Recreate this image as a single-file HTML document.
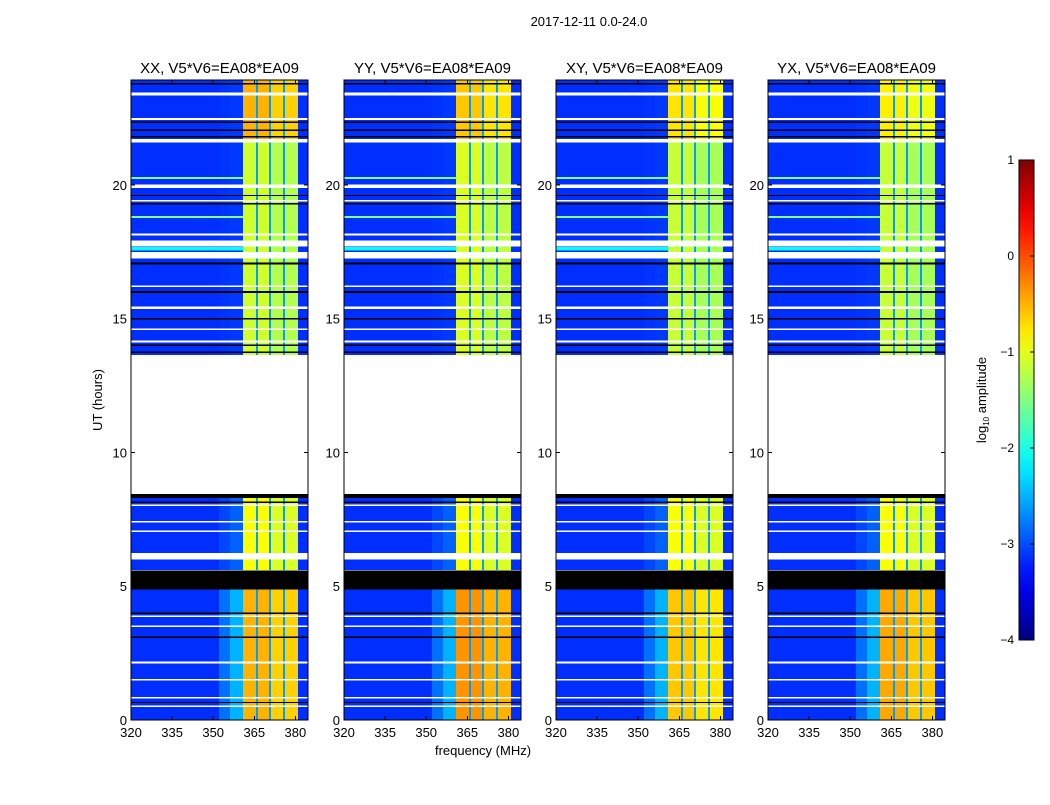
<!DOCTYPE html>
<html><head><meta charset="utf-8"><style>
body{margin:0;background:#fff;font-family:"Liberation Sans",sans-serif;}
svg text{font-family:"Liberation Sans",sans-serif;}
</style></head><body>
<svg id="fig" width="1050" height="800" viewBox="0 0 1050 800">
<rect width="1050" height="800" fill="#fff"/>
<text x="589" y="26" font-size="13" text-anchor="middle">2017-12-11 0.0-24.0</text>
<text x="0" y="0" font-size="13" text-anchor="middle" transform="translate(102,400) rotate(-90)">UT (hours)</text>
<text x="483" y="755" font-size="13" text-anchor="middle">frequency (MHz)</text>
<g id="panels" shape-rendering="crispEdges"></g>
<g id="cbar"></g>
<text x="0" y="0" font-size="13" text-anchor="middle" transform="translate(986,400) rotate(-90)">log<tspan font-size="8" dy="3">10</tspan><tspan dy="-3"> amplitude</tspan></text>
</svg>
<script>
const panelTitles=['XX, V5*V6=EA08*EA09','YY, V5*V6=EA08*EA09','XY, V5*V6=EA08*EA09','YX, V5*V6=EA08*EA09'];
const xTicks=[320,335,350,365,380];
const yTicks=[0,5,10,15,20];
const cbTicks=[1,0,-1,-2,-3,-4];
const freqEdges=[320,352,356,361,365.5,366.3,370.5,371.2,375.6,376.3,380.8,384.6];
const colType=['bg','edge','edge2','band','gap','band','gap','band','gap','band','bg'];
// segments: [t0, t1, bandLevel, edgeLevel]
const segments=[[0,4.9,-0.5,-2.5],[5.6,8.45,-0.9,-2.9],[13.65,21.6,-1.1,-3.1],[21.6,23.9,-0.5,-3.1]];
const panelBand=[[0,0,0,0],[0.15,0,0.05,-0.1],[-0.1,0,-0.05,-0.25],[0.05,0,-0.05,-0.3]];
const bgLevel=-3.15;
const gapLevel=-2.6;
const whiteLines=[[23.35,23.45],[22.43,22.5],[21.58,21.72],[19.88,20.02],[19.38,19.44],[18.12,18.18],[17.7,17.92],[17.25,17.5],[16.18,16.24],[15.37,15.45],[14.57,14.63],[14.12,14.18],[13.65,8.45],[8.0,8.06],[7.38,7.44],[7.02,7.08],[6.0,6.25],[3.85,3.9],[3.48,3.54],[2.12,2.18],[1.47,1.53],[0.8,0.86],[0.48,0.54]];
const blackLines=[[23.75,23.82],[22.32,22.37],[22.02,22.07],[21.78,21.83],[19.58,19.63],[19.27,19.32],[17.03,17.1],[15.97,16.03],[14.97,15.02],[13.98,14.03],[13.72,13.78],[8.3,8.45],[8.12,8.17],[4.87,5.58],[3.97,4.02],[3.07,3.13],[0.63,0.68]];
const lineRows=[[20.22,20.3,-1.5],[18.77,18.85,-1.5],[17.55,17.68,-2.1]];

function jet(v){let x=(v+4)/5;x=Math.max(0,Math.min(1,x));
 const c=t=>Math.round(255*Math.max(0,Math.min(1,1.5-Math.abs(t))));
 return `rgb(${c(4*x-3)},${c(4*x-2)},${c(4*x-1)})`;}
const NS='http://www.w3.org/2000/svg';
function mk(tag,attrs,parent){const e=document.createElementNS(NS,tag);for(const k in attrs)e.setAttribute(k,attrs[k]);parent.appendChild(e);return e;}
const lefts=[131,344,556,768],PW=177,TOP=80,BOT=720,TMAX=23.925;
const yS=t=>BOT-(t/TMAX)*(BOT-TOP);
const panelsG=document.getElementById('panels');
panelTitles.forEach((title,p)=>{
 const L=lefts[p];
 const xS=f=>L+(f-320)/(384.6-320)*PW;
 const g=mk('g',{},panelsG);
 
 
 segments.forEach((s,si)=>{
  for(let c=0;c<colType.length;c++){
   const ty=colType[c];let v;
   const bl=s[2]+panelBand[p][si];
   if(ty==='bg')v=bgLevel;else if(ty==='gap')v=gapLevel;
   else if(ty==='edge')v=(s[3]+bgLevel)/2;else if(ty==='edge2')v=s[3];
   else v=bl+(c===7||c===9?-0.15:0);
   const x0=Math.round(xS(freqEdges[c])),x1=Math.round(xS(freqEdges[c+1]));
   const r=mk('rect',{x:x0,y:yS(s[1]),width:x1-x0,height:yS(s[0])-yS(s[1]),fill:jet(v)},g);
   
   
  }
 });
 lineRows.forEach(l=>{const r=mk('rect',{x:L,y:yS(l[1]),width:xS(361)-L,height:yS(l[0])-yS(l[1]),fill:jet(l[2])},g);
  });
 whiteLines.forEach(l=>{const r=mk('rect',{x:L,y:yS(l[1]),width:PW,height:yS(l[0])-yS(l[1]),fill:'#fff'},g);
  });
 blackLines.forEach(l=>{const r=mk('rect',{x:L,y:yS(l[1]),width:PW,height:Math.max(1.2,yS(l[0])-yS(l[1])),fill:'#000'},g);
  });
 const fr=mk('rect',{x:L,y:TOP,width:PW,height:BOT-TOP,fill:'none',stroke:'#000','stroke-width':1},g);
 
 const tt=mk('text',{x:L+PW/2,y:73,'font-size':15,'text-anchor':'middle'},g);tt.textContent=title;
 
 xTicks.forEach(f=>{const x=xS(f);
  mk('line',{x1:x,x2:x,y1:BOT,y2:BOT-4,stroke:'#000'},g);mk('line',{x1:x,x2:x,y1:TOP,y2:TOP+4,stroke:'#000'},g);
  const t=mk('text',{x:x,y:737,'font-size':13,'text-anchor':'middle'},g);t.textContent=f;
  });
 yTicks.forEach(h=>{const y=yS(h);
  mk('line',{x1:L,x2:L+4,y1:y,y2:y,stroke:'#000'},g);mk('line',{x1:L+PW,x2:L+PW-4,y1:y,y2:y,stroke:'#000'},g);
  const t=mk('text',{x:L-4,y:y+5,'font-size':13,'text-anchor':'end'},g);t.textContent=h;
  });
});
const cb=document.getElementById('cbar');
const cbY=v=>640-(v+4)/5*480;
const defs=mk('defs',{},cb);const lg=mk('linearGradient',{id:'jetg',x1:0,y1:1,x2:0,y2:0},defs);
for(let i=0;i<=20;i++){mk('stop',{offset:i/20,'stop-color':jet(-4+5*i/20)},lg);}
mk('rect',{x:1019,y:160,width:15,height:480,fill:'url(#jetg)',stroke:'#000'},cb);
cbTicks.forEach(v=>{const y=cbY(v);mk('line',{x1:1030,x2:1034,y1:y,y2:y,stroke:'#000'},cb);
 const t=mk('text',{x:1014,y:y+4,'font-size':12,'text-anchor':'end'},cb);t.textContent=v===0?'0':(v<0?'\u2212'+(-v):v);
 });
</script>
</body></html>
